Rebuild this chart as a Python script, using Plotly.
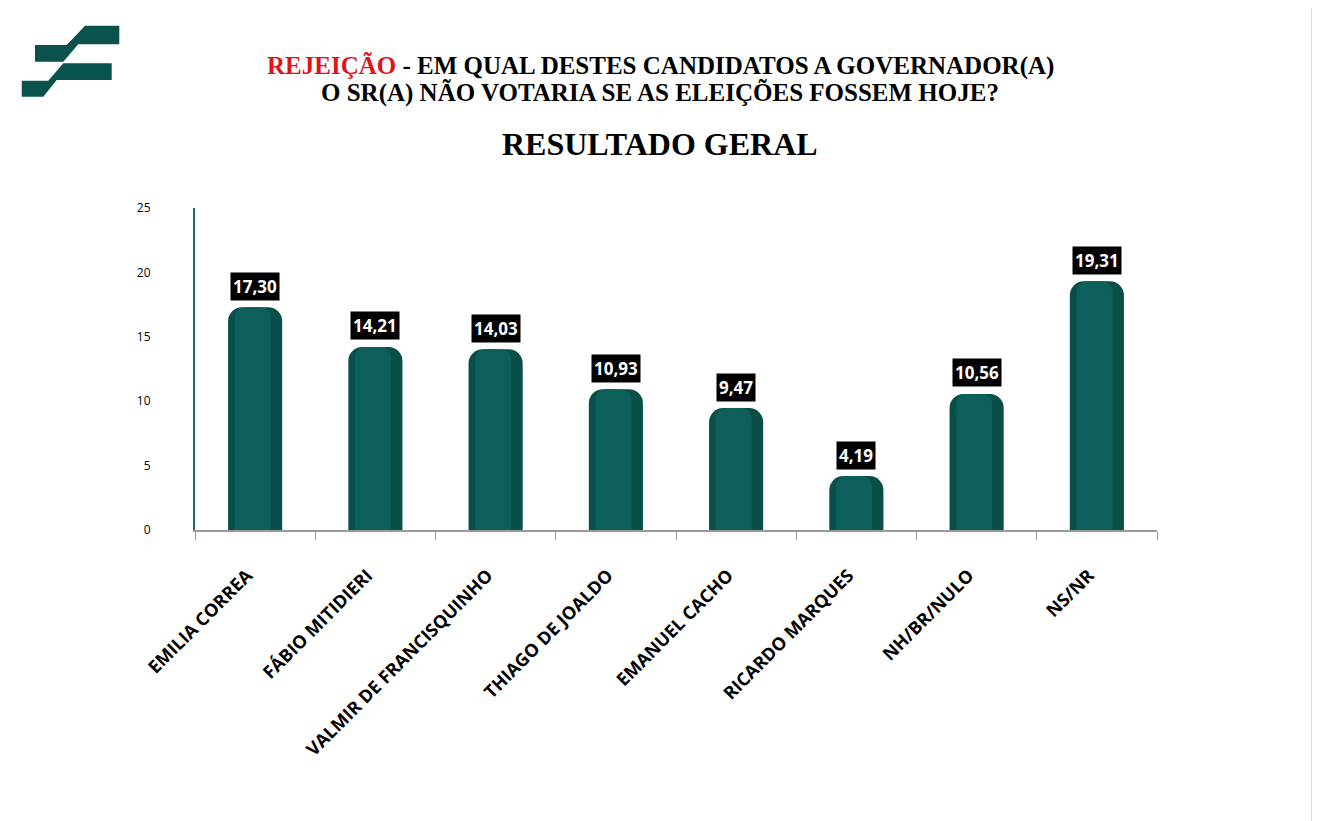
import plotly.graph_objects as go

categories = ["EMILIA CORREA", "FÁBIO MITIDIERI", "VALMIR DE FRANCISQUINHO",
              "THIAGO DE JOALDO", "EMANUEL CACHO", "RICARDO MARQUES",
              "NH/BR/NULO", "NS/NR"]
values = [17.30, 14.21, 14.03, 10.93, 9.47, 4.19, 10.56, 19.31]
value_labels = ["17,30", "14,21", "14,03", "10,93", "9,47", "4,19", "10,56", "19,31"]
y_ticks = [0, 5, 10, 15, 20, 25]

W, H = 1320, 821
OFF = 8  # page body margin
ML, MR, MT, MB = 187, 171, 200, 299
PW, PH = W - ML - MR, H - MT - MB
teal = "#0a534d"

fig = go.Figure()
fig.add_trace(go.Bar(x=categories, y=values, marker=dict(color="#094e49", line=dict(width=0),
                     cornerradius=14), width=0.45, hoverinfo="skip"))
fig.add_trace(go.Bar(x=categories, y=values, marker=dict(color="#0d5f59", line=dict(width=0),
                     cornerradius=10), width=0.3, offset=-0.17, hoverinfo="skip"))

for c, v, t in zip(categories, values, value_labels):
    fig.add_annotation(x=c, y=v, text="<b>" + t + "</b>", showarrow=False, yshift=21,
                       bgcolor="black", font=dict(color="white", size=17, family="Open Sans"),
                       borderpad=2)


def px(x):
    return (x - OFF - ML) / PW


def py(y):
    return (H - MB - (y - OFF)) / PH


logo1 = [(85, 25.7), (119.3, 25.7), (119.3, 44.3), (78.3, 44.3), (63.3, 61.7),
         (35, 61.7), (35, 45), (66.7, 45)]
logo2 = [(63.3, 63.3), (111.7, 63.3), (111.7, 80), (56.7, 80), (43.3, 96.7),
         (21.7, 96.7), (21.7, 80.7), (48.3, 80.7)]
shapes = []
for poly in (logo1, logo2):
    path = "M " + " L ".join(f"{px(a):.4f},{py(b):.4f}" for a, b in poly) + " Z"
    shapes.append(dict(type="path", xref="paper", yref="paper", path=path,
                       fillcolor=teal, line=dict(width=0), layer="above"))

title_font = dict(family="Liberation Serif", size=25, color="black", weight="bold")
fig.update_layout(
    width=W, height=H,
    paper_bgcolor="white", plot_bgcolor="white",
    showlegend=False, barmode="overlay",
    margin=dict(l=ML, r=MR, t=MT, b=MB),
    xaxis=dict(tickangle=-45, tickfont=dict(family="Open Sans", size=18, color="black",
                                              weight="bold"),
               showline=True, linecolor="#9a9a9a", linewidth=2, ticks="outside",
               tickson="boundaries", tickcolor="#9a9a9a", ticklen=8, showgrid=False,
               ticklabelstandoff=26, ticklabelshift=-8),
    yaxis=dict(range=[0, 25], tickvals=y_ticks, tickfont=dict(family="Open Sans", size=12,
                                                              color="black"),
               showline=True, linecolor="#1f6b62", linewidth=2, showgrid=False,
               zeroline=False, ticks="", ticklabelstandoff=40),
    annotations=list(fig.layout.annotations) + [
        dict(xref="paper", yref="paper", x=px(660), y=py(66), showarrow=False,
             xanchor="center", yanchor="middle",
             text="<span style='color:#e0141c'>REJEIÇÃO</span> - EM QUAL DESTES CANDIDATOS A GOVERNADOR(A)",
             font=title_font),
        dict(xref="paper", yref="paper", x=px(660), y=py(93), showarrow=False,
             xanchor="center", yanchor="middle",
             text="O SR(A) NÃO VOTARIA SE AS ELEIÇÕES FOSSEM HOJE?",
             font=title_font),
        dict(xref="paper", yref="paper", x=px(660), y=py(144), showarrow=False,
             xanchor="center", yanchor="middle",
             text="RESULTADO GERAL",
             font=dict(family="Liberation Serif", size=32, color="black", weight="bold")),
    ],
    shapes=shapes + [
        dict(type="line", xref="paper", yref="paper", x0=px(1312), x1=px(1312),
             y0=py(821), y1=py(0), line=dict(color="#dddddd", width=2)),
    ],
)

fig.write_html("out.html")
